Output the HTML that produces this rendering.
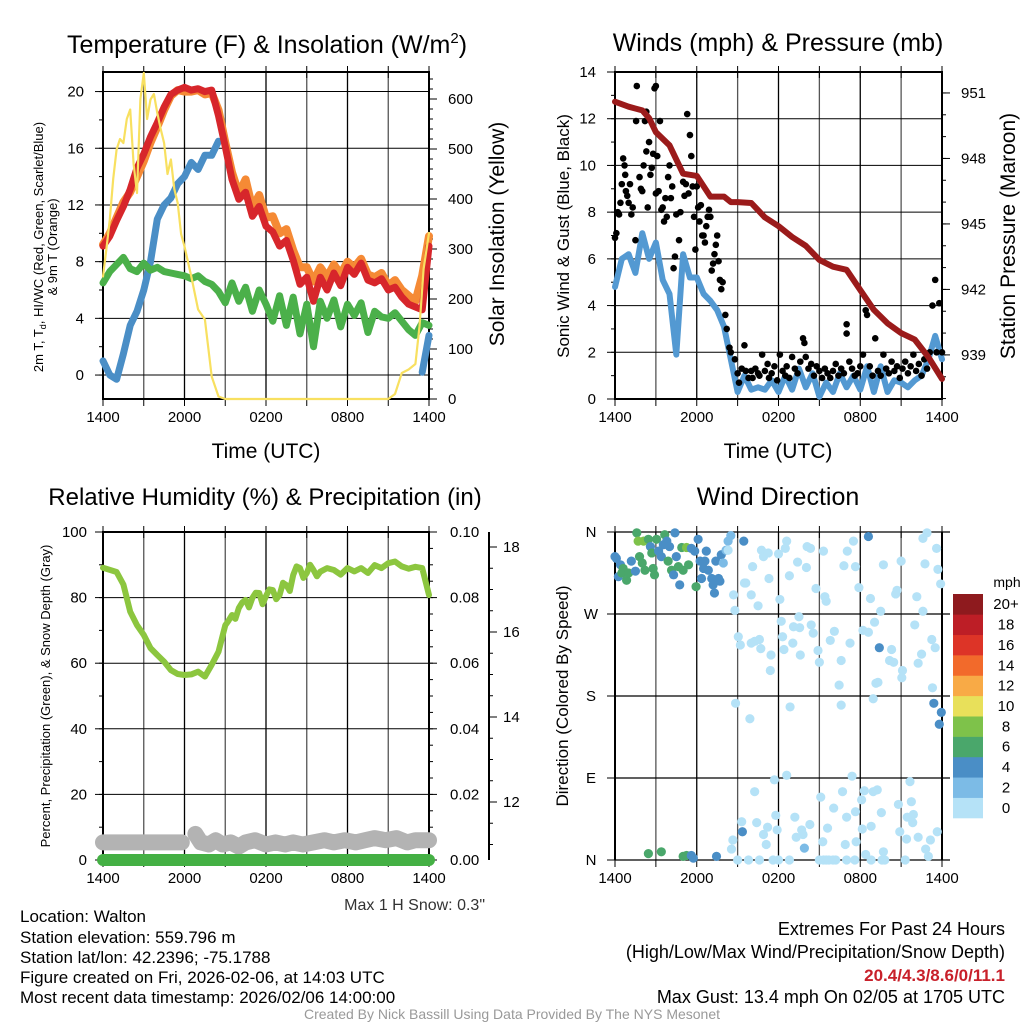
<!DOCTYPE html>
<html><head><meta charset="utf-8">
<style>
html,body{margin:0;padding:0;background:#fff;}
svg{display:block;font-family:"Liberation Sans",Arial,sans-serif;}
</style></head>
<body>
<svg id="chart" width="1024" height="1024" viewBox="0 0 1024 1024" xmlns="http://www.w3.org/2000/svg">
<rect x="0" y="0" width="1024" height="1024" fill="#fff"/>
<text x="267" y="53" font-size="25" text-anchor="middle">Temperature (F) &amp; Insolation (W/m<tspan dy="-10" font-size="15">2</tspan><tspan dy="10">)</tspan></text>
<text x="778" y="51" font-size="25" text-anchor="middle">Winds (mph) &amp; Pressure (mb)</text>
<text x="265" y="505" font-size="24" text-anchor="middle">Relative Humidity (%) &amp; Precipitation (in)</text>
<text x="778" y="505" font-size="25" text-anchor="middle">Wind Direction</text>

<text x="266" y="458" font-size="21" text-anchor="middle">Time (UTC)</text>
<text x="778" y="458" font-size="21" text-anchor="middle">Time (UTC)</text>

<text transform="translate(43,247) rotate(-90)" font-size="13" text-anchor="middle">2m T, T<tspan font-size="9" dy="3">d</tspan><tspan dy="-3">, HI/WC (Red, Green, Scarlet/Blue)</tspan></text>
<text transform="translate(57,247) rotate(-90)" font-size="13" text-anchor="middle">&amp; 9m T (Orange)</text>
<text transform="translate(504,234) rotate(-90)" font-size="21" text-anchor="middle">Solar Insolation (Yellow)</text>
<text transform="translate(569,236) rotate(-90)" font-size="17" text-anchor="middle">Sonic Wind &amp; Gust (Blue, Black)</text>
<text transform="translate(1015,236) rotate(-90)" font-size="21" text-anchor="middle">Station Pressure (Maroon)</text>
<text transform="translate(50,696) rotate(-90)" font-size="13" text-anchor="middle">Percent, Precipitation (Green), &amp; Snow Depth (Gray)</text>
<text transform="translate(568,696) rotate(-90)" font-size="17" text-anchor="middle">Direction (Colored By Speed)</text>

<text x="485" y="910" font-size="16" text-anchor="end" fill="#333">Max 1 H Snow: 0.3"</text>
<g font-size="17">
<text x="20" y="922">Location: Walton</text>
<text x="20" y="943">Station elevation: 559.796 m</text>
<text x="20" y="963">Station lat/lon: 42.2396; -75.1788</text>
<text x="20" y="983">Figure created on Fri, 2026-02-06, at 14:03 UTC</text>
<text x="20" y="1003">Most recent data timestamp: 2026/02/06 14:00:00</text>
</g>
<g font-size="18" text-anchor="end">
<text x="1005" y="935">Extremes For Past 24 Hours</text>
<text x="1005" y="958">(High/Low/Max Wind/Precipitation/Snow Depth)</text>
<text x="1005" y="981" fill="#c8202a" font-weight="bold" font-size="17">20.4/4.3/8.6/0/11.1</text>
<text x="1005" y="1003">Max Gust: 13.4 mph On 02/05 at 1705 UTC</text>
</g>
<text x="512" y="1019" font-size="14" fill="#999" text-anchor="middle">Created By Nick Bassill Using Data Provided By The NYS Mesonet</text>
</svg>
<script>
// ===== DATA =====
const timeTickLabels = ["1400","2000","0200","0800","1400"];
const timeTickHours = [0,6,12,18,24];
const tempTicks = [0,4,8,12,16,20];
const solarTicks = [0,100,200,300,400,500,600];
const windTicks = [0,2,4,6,8,10,12,14];
const pressTicks = [939,942,945,948,951];
const rhTicks = [0,20,40,60,80,100];
const precipTicks = ["0.00","0.02","0.04","0.06","0.08","0.10"];
const snowTicks = [12,14,16,18];
const dirTickLabels = ["N","E","S","W","N"];
const dirTickDeg = [0,90,180,270,360];
const speedBinLabels = ["0","2","4","6","8","10","12","14","16","18","20+"];
const speedBinColors = ["#b5e2f7","#7cbbe6","#4a8ec6","#4aa76b","#7ec24a","#e8e05a","#f8aa46","#f26a2b","#dd3427","#bd1e26","#8e1a1e"];

const halfHours = [0,0.5,1,1.5,2,2.5,3,3.5,4,4.5,5,5.5,6,6.5,7,7.5,8,8.5,9,9.5,10,10.5,11,11.5,12,12.5,13,13.5,14,14.5,15,15.5,16,16.5,17,17.5,18,18.5,19,19.5,20,20.5,21,21.5,22,22.5,23,23.5,24];
const temp2m = [9.1,9.8,10.9,11.9,13.1,14.6,15.6,16.8,17.8,18.9,19.8,20.1,20.3,20.1,20.2,20.0,20.1,18.3,16.1,13.8,12.4,12.9,11.2,11.9,10.5,10.1,9.1,9.5,8.1,6.4,6.9,5.2,6.9,6.0,7.2,6.3,7.6,7.1,7.9,6.7,6.5,6.8,6.0,6.2,5.5,5.0,4.8,4.6,9.1];
const temp9m = [9.2,10.0,11.1,12.2,12.9,14.0,15.1,16.4,17.5,18.7,19.7,20.1,20.0,20.0,20.1,19.8,19.9,18.7,16.4,14.3,12.8,13.8,11.8,12.7,11.1,11.2,10.0,10.3,8.8,7.6,7.6,6.6,7.6,6.9,7.8,7.1,8.0,7.6,8.2,7.1,6.9,7.2,6.3,6.7,6.0,5.6,5.2,7.0,9.8];
const dewpoint = [1.0,0.0,-0.3,1.5,3.5,4.5,6.0,8.0,11.0,12.0,12.5,13.5,14.0,15.0,14.5,15.5,15.5,16.5,null,12.8,null,null,null,null,null,null,null,null,null,null,null,null,null,null,null,null,null,null,null,null,null,null,null,null,null,null,null,0.2,2.8];
const dewpoint9h = [null,null,null,null,null,null,null,null,null,null,null,null,null,null,null,null,null,null,null,12.0,null,null,null,null,null,null,null,null,null,null,null,null,null,null,null,null,null,4.8,null,null,null,null,null,null,null,null,null,-0.6,null];
const windChill = [6.5,7.3,7.8,8.3,7.5,7.3,7.9,7.4,7.6,7.3,7.2,7.1,7.0,6.8,7.0,6.6,6.4,5.9,5.1,6.5,5.2,6.2,4.5,6.0,5.0,3.8,5.6,3.5,5.5,2.9,5.0,2.0,5.2,4.0,5.3,3.4,5.0,4.2,5.1,3.0,4.5,4.1,4.0,4.4,3.8,3.2,2.8,3.7,3.5];
const solarHours = [0,0.25,0.5,0.75,1,1.25,1.5,1.75,2,2.25,2.5,2.75,3,3.25,3.5,3.75,4,4.25,4.5,4.75,5,5.25,5.5,5.75,6,6.5,7,7.5,8,8.5,9,21,21.5,22,22.5,23,23.3,23.6,24];
const solar = [245,300,359,440,499,520,512,560,579,470,412,600,652,560,599,610,572,540,512,450,479,420,392,330,305,245,179,159,45,5,0,0,10,52,59,70,145,260,332];
const windHours = halfHours;
const sonicWind = [4.8,6.0,6.2,5.4,7.1,6.0,6.7,5.1,4.5,1.9,6.2,5.2,5.2,4.5,4.2,3.8,3.1,1.7,0.3,1.0,0.4,0.5,0.4,0.8,0.3,1.0,0.4,1.3,0.5,1.1,0.1,0.7,0.3,1.1,0.5,1.0,0.4,1.4,0.3,1.4,0.3,0.8,0.7,0.5,0.8,1.0,1.7,2.7,1.7];
const pressHours = [0,1,2,2.5,3,4,5,6,7,8,8.5,9,10,11,12,13,14,15,16,17,18,19,20,21,22,23,24];
const pressure = [950.6,950.37,950.2,949.85,949.2,948.6,947.3,947.2,946.25,946.25,946.0,946.0,945.96,945.3,944.9,944.4,944.0,943.35,943.04,942.9,941.97,941.06,940.45,940.0,939.7,938.9,937.9];
const gustHours = [0,0.1,0.2,0.3,0.4,0.5,0.6,0.7,0.75,0.8,0.9,1.0,1.1,1.2,1.3,1.5,1.55,1.6,1.8,1.9,2.0,2.1,2.2,2.3,2.3,2.4,2.5,2.6,2.7,2.8,2.9,3.0,3.0,3.1,3.2,3.3,3.4,3.5,3.6,3.7,3.8,3.9,4.0,4.1,4.2,4.3,4.4,4.5,4.7,4.8,5.0,5.1,5.2,5.3,5.4,5.5,5.6,5.7,5.8,5.9,6.0,6.1,6.2,6.3,6.4,6.5,6.6,6.7,6.8,6.9,7.0,7.1,7.2,7.3,7.4,7.5,7.6,7.7,7.8,7.9,8.1,8.2,8.4,8.5,8.8,9.0,9.1,9.3,9.5,9.6,9.8,10.0,10.1,10.3,10.5,10.6,10.8,11.0,11.2,11.3,11.5,11.7,11.9,12.1,12.3,12.5,12.6,12.8,13.0,13.2,13.4,13.6,13.8,13.9,14.0,14.2,14.4,14.6,14.8,15.0,15.2,15.4,15.6,15.8,16.0,16.2,16.4,16.6,16.8,17.0,17.0,17.2,17.4,17.6,17.8,18.0,18.2,18.4,18.5,18.7,18.9,19.1,19.3,19.5,19.7,19.9,20.1,20.3,20.5,20.7,20.9,21.1,21.3,21.5,21.7,21.9,22.1,22.3,22.5,22.7,22.9,23.1,23.3,23.5,23.6,23.8,24.0];
const gust = [6.9,7.1,8.0,7.9,8.4,9.2,10.3,10.0,9.6,8.9,8.7,8.4,9.2,7.9,8.2,6.8,11.9,13.4,9.5,9.0,8.9,10.0,11.9,12.3,10.6,8.2,11.0,9.6,9.9,10.5,13.3,13.4,8.8,10.4,8.9,11.9,8.1,8.2,7.6,8.6,7.8,9.5,10.0,8.6,9.1,5.6,6.1,7.9,6.8,8.0,9.3,8.7,9.2,12.2,8.8,11.3,10.4,9.1,7.8,6.4,9.1,8.2,7.6,8.3,7.0,7.0,6.7,7.4,7.8,8.1,7.8,5.5,5.8,6.2,6.6,7.0,5.9,5.1,4.7,5.0,3.6,3.0,2.2,2.0,1.7,1.1,0.7,1.3,2.3,1.2,0.9,1.2,0.9,1.3,1.1,1.0,1.9,1.2,1.5,0.9,1.1,1.4,0.8,1.9,1.2,1.0,1.4,0.9,1.8,1.3,1.1,1.6,2.6,2.4,1.8,1.3,1.5,1.0,1.4,1.2,0.9,1.3,1.1,0.9,1.2,1.5,1.0,1.3,1.1,3.2,2.8,1.6,1.3,1.0,1.1,1.4,1.9,3.8,3.6,1.4,1.0,2.6,1.2,1.0,1.9,1.3,1.1,1.6,1.2,1.4,0.9,1.3,1.6,1.1,1.4,1.9,1.2,1.5,1.0,1.7,1.3,2.0,4.0,5.1,2.0,4.1,2.0,5.1];
const rhHours = [0,1,1.5,2,2.5,3,3.5,4,4.5,5,5.5,6,6.5,7,7.5,8,8.5,9,9.25,9.5,9.75,10,10.25,10.5,10.75,11,11.25,11.5,11.75,12,12.25,12.5,12.75,13,13.25,13.5,13.75,14,14.25,14.5,14.75,15,15.25,15.5,15.75,16,16.5,17,17.5,18,18.5,19,19.5,20,20.5,21,21.5,22,22.5,23,23.5,24];
const humidity = [89.1,87.8,84.0,75.7,71.6,68.6,64.6,62.5,60.5,57.9,56.7,56.4,56.6,57.4,55.9,59.5,63.5,71.6,73.0,74.7,73.5,76.8,78.5,79.3,77.0,79.9,81.5,81.4,78.0,80.5,82.5,82.3,79.5,80.8,84.5,83.8,82.0,86.9,89.5,89.0,86.0,87.5,90.0,88.4,86.5,87.9,89.0,88.4,87.0,89.0,88.0,89.0,87.5,89.9,89.0,90.5,91.0,89.5,88.8,89.4,89.0,80.8];
const snowHours = [0,5.8,null,6.8,7.2,7.8,8.3,8.8,9.4,10,10.5,11.2,12,12.7,13.4,14,14.7,15.5,16.3,17,17.8,18.6,19.3,20,20.8,21.6,22.4,23,24];
const snowDepth = [11.05,11.05,null,11.25,11.05,11.0,11.1,11.0,11.05,10.95,11.05,11.1,11.0,11.05,11.0,11.05,11.0,11.05,11.1,11.05,11.1,11.05,11.1,11.15,11.1,11.15,11.05,11.1,11.1];
const precipHours = [0,24];
const precip = [0,0];
const dirHours = [0,0.1,0.4,0.25,0.5,0.6,0.85,1.0,1.2,1.5,1.6,1.7,1.8,2.0,2.1,2.2,2.45,2.6,2.7,2.8,2.9,3.05,3.2,3.4,3.55,3.65,3.8,3.9,4.0,4.15,4.3,4.4,4.5,4.65,4.75,4.9,5.0,5.25,5.4,5.6,5.85,5.95,6.1,6.25,6.35,6.5,6.6,6.7,6.85,7.1,7.2,7.3,7.4,7.6,7.7,7.8,7.95,8.15,8.3,8.5,9.45,2.45,3.4,5.0,5.25,5.6,5.75,7.45,9.35,13.9,18.6,19.4,23.4,23.95,23.8,
8.3,8.7,8.8,9.5,9.6,10.1,10.0,10.5,10.75,10.9,11.25,11.3,12.0,12.1,12.5,12.6,12.8,13.4,14.05,14.1,14.35,14.75,15.3,15.4,15.5,16.8,17.05,17.5,17.65,17.9,18.75,19.5,19.7,20.6,20.7,21.0,22.15,22.6,22.6,22.9,22.75,23.6,23.7,23.9,
9.05,9.2,10.0,10.25,10.6,10.7,11.45,11.4,12.2,12.3,12.4,13.1,13.5,13.55,13.05,13.6,14.4,14.55,14.9,15.0,15.8,16.1,16.6,16.45,17.25,18.2,18.6,19.05,19.15,19.3,20.15,20.3,20.45,21.1,21.05,22.0,22.5,22.25,23.25,23.5,23.3,18.95,
8.85,9.9,12.85,16.6,11.7,12.6,17.4,21.65,
10.25,9.3,8.65,8.55,10.4,10.9,11.1,11.2,11.8,11.9,13.2,13.3,13.7,13.8,14.3,15.1,15.25,15.6,16.05,16.7,16.9,17.0,17.65,17.7,18.1,18.3,18.4,18.15,18.8,18.95,19.25,19.55,19.7,20.8,20.9,21.4,21.45,21.75,21.85,21.9,22.25,22.8,23.0,23.15,23.65,
9.0,9.8,10.6,11.6,12.0,12.8,15.0,15.3,15.5,15.7,16.0,16.2,17.0,17.6,18.8,19.6,19.8,21.3];
const dirDeg = [333,331,324,311,315,320,307,315,328,317,359,350,333,326,350,318,352,344,337,320,313,352,339,333,346,357,350,328,344,318,313,359,333,322,302,343,318,343,324,342,339,300,352,328,309,320,328,339,318,309,302,293,328,309,306,335,326,340,350,356,350,7,9,4,5,5,2,4,31,13,355,233,172,162,149,
340,291,274,304,304,322,291,279,340,333,337,309,336,286,342,350,312,327,321,344,342,298,339,289,284,323,339,350,322,299,287,273,324,292,296,328,289,273,353,359,325,342,319,303,
245,236,238,240,242,232,225,208,262,245,231,256,267,255,238,225,258,249,230,217,241,251,219,192,238,252,250,261,194,195,219,231,217,208,200,258,226,216,242,233,189,177,
172,155,168,170,88,93,92,86,
75,42,22,12,41,28,17,36,49,33,47,25,33,28,39,69,20,35,57,75,17,47,53,20,66,76,6,34,37,75,77,52,9,61,31,23,47,64,41,50,25,12,4,22,31,
0,0,0,0,0,0,0,0,0,0,0,0,0,0,0,0,0,0];
const dirSpeed = [5,5,5,5,7,7,7,7,5,5,7,9,7,7,9,7,7,5,7,7,7,7,5,5,5,7,5,7,5,7,5,5,5,7,5,7,7,9,7,5,5,7,5,5,5,5,5,5,5,5,5,5,5,5,5,5,3,3,3,3,5,7,7,7,7,5,5,5,5,3,5,5,5,5,5,
1,1,1,1,1,1,1,1,1,1,1,1,1,1,1,1,1,1,1,1,1,1,1,1,1,1,1,1,1,1,1,1,1,1,1,1,1,1,1,1,1,1,1,1,
1,1,1,1,1,1,1,1,1,1,1,1,1,1,1,1,1,1,1,1,1,1,1,1,1,1,1,1,1,1,1,1,1,1,1,1,1,1,1,1,1,1,
1,1,1,1,1,1,1,1,
1,1,1,1,1,1,1,1,1,1,1,1,1,1,1,1,1,1,1,1,1,1,1,1,1,1,1,1,1,1,1,1,1,1,1,1,1,1,1,1,1,1,1,1,1,
1,1,1,1,1,1,1,1,1,1,1,1,1,1,1,1,1,1];

// ===== helpers =====
const NS="http://www.w3.org/2000/svg";
const svg=document.getElementById('chart');
function mk(tag,attrs,parent){const e=document.createElementNS(NS,tag);for(const k in attrs)e.setAttribute(k,attrs[k]);(parent||svg).appendChild(e);return e;}
function scale(d0,d1,r0,r1){return v=>r0+(v-d0)*(r1-r0)/(d1-d0);}
function pathD(xs,ys,sx,sy){let d="",pen=false;for(let i=0;i<xs.length;i++){if(xs[i]===null||ys[i]===null){pen=false;continue;}d+=(pen?"L":"M")+sx(xs[i]).toFixed(1)+","+sy(ys[i]).toFixed(1);pen=true;}return d;}
function colorFor(s){let i=Math.floor(s/2);if(i<0)i=0;if(i>10)i=10;return speedBinColors[i];}

function panelFrame(p,name){
  const g=mk('g',{});
  
  
  for(let h=3;h<24;h+=3){
    const l=mk('line',{x1:p.sx(h),x2:p.sx(h),y1:p.y0,y2:p.y1,stroke:(h%6===0)?'#000':'#555','stroke-width':1.3},g);
    
    
  }
  for(let h=0;h<=24;h+=3){
    const t=mk('line',{x1:p.sx(h),x2:p.sx(h),y1:p.y1,y2:p.y1+7,stroke:'#000','stroke-width':1},g);
    
    
    const tt=mk('line',{x1:p.sx(h),x2:p.sx(h),y1:p.y0-6,y2:p.y0+6,stroke:'#000','stroke-width':1},g);
    
    
  }
  timeTickHours.forEach((h,i)=>{
    const t=mk('text',{x:p.sx(h),y:p.y1+23,'font-size':15,'text-anchor':'middle'},g);
    
    
    t.textContent=timeTickLabels[i];
  });
  return g;
}
function hgrid(p,vals,sy,g){
  vals.forEach(v=>{
    const l=mk('line',{x1:p.x0,x2:p.x1,y1:sy(v),y2:sy(v),stroke:'#000','stroke-width':1},g);
    
    
  });
}
function leftAxis(p,vals,labels,sy,g,minorStep,lo,hi,lx){
  for(let v=lo;v<=hi+1e-9;v+=minorStep){const y=sy(v);if(y<p.y0-0.5||y>p.y1+0.5)continue;
    const m=mk('line',{x1:p.x0-4,x2:p.x0,y1:y,y2:y,stroke:'#000','stroke-width':1},g);
    
    }
  vals.forEach((v,i)=>{
    const t=mk('line',{x1:p.x0-8,x2:p.x0,y1:sy(v),y2:sy(v),stroke:'#000','stroke-width':1},g);
    
    
    const tx=mk('text',{x:lx,y:sy(v)+5,'font-size':15,'text-anchor':'end'},g);
    
    
    tx.textContent=labels[i];
  });
}
function rightAxis(x,p,vals,labels,sy,g,minorStep,lo,hi,lx){
  for(let v=lo;v<=hi+1e-9;v+=minorStep){const y=sy(v);if(y<p.y0-0.5||y>p.y1+0.5)continue;
    const m=mk('line',{x1:x,x2:x+4,y1:y,y2:y,stroke:'#000','stroke-width':1},g);
    
    }
  vals.forEach((v,i)=>{
    const t=mk('line',{x1:x,x2:x+8,y1:sy(v),y2:sy(v),stroke:'#000','stroke-width':1},g);
    
    
    const tx=mk('text',{x:lx,y:sy(v)+5,'font-size':15,'text-anchor':'start'},g);
    
    
    tx.textContent=labels[i];
  });
}
function border(p,g){
  const r=mk('rect',{x:p.x0,y:p.y0,width:p.x1-p.x0,height:p.y1-p.y0,fill:'none',stroke:'#000','stroke-width':2},g);
  
  
}
function line(xs,ys,sx,sy,color,w,name,g){
  const e=mk('path',{d:pathD(xs,ys,sx,sy),fill:'none',stroke:color,'stroke-width':w,'stroke-linejoin':'round','stroke-linecap':'round'},g);
  
  
  return e;
}

// ===== Panel 1 =====
const p1={x0:103,x1:429,y0:72,y1:399};p1.sx=scale(0,24,p1.x0,p1.x1);
const t1y=scale(-1.69,21.38,p1.y1,p1.y0), s1y=scale(0,654,p1.y1,p1.y0);
const g1=panelFrame(p1,'temperature-panel');
hgrid(p1,tempTicks,t1y,g1);
const m1=mk('g',{});
line(halfHours,dewpoint,p1.sx,t1y,'#4a8ec6',7,'dewpoint-line',m1);
line(halfHours,dewpoint9h,p1.sx,t1y,'#4a8ec6',6,'dewpoint-fragment-line',m1);
line(halfHours,temp9m,p1.sx,t1y,'#f58a35',8,'temp-9m-line',m1);
line(halfHours,temp2m,p1.sx,t1y,'#d7262b',7,'temp-2m-line',m1);
line(halfHours,windChill,p1.sx,t1y,'#4bb04a',7,'wind-chill-line',m1);
line(solarHours,solar,p1.sx,s1y,'#f8e060',2.2,'solar-insolation-line',m1);
border(p1,g1);
leftAxis(p1,tempTicks,tempTicks.map(String),t1y,g1,2,-2,22,84);
rightAxis(p1.x1,p1,solarTicks,solarTicks.map(String),s1y,g1,20,0,650,448);

// ===== Panel 2 =====
const p2={x0:615,x1:942,y0:72,y1:399};p2.sx=scale(0,24,p2.x0,p2.x1);
const w2y=scale(0,14,p2.y1,p2.y0), pr2y=scale(936.98,951.96,p2.y1,p2.y0);
const g2=panelFrame(p2,'winds-panel');
hgrid(p2,windTicks,w2y,g2);
const m2=mk('g',{});
line(windHours,sonicWind,p2.sx,w2y,'#5399d2',6,'sonic-wind-line',m2);
gustHours.forEach((h,i)=>{
  const c=mk('circle',{cx:p2.sx(h),cy:w2y(gust[i]),r:3.3,fill:'#000'},m2);
  
  
});
line(pressHours,pressure,p2.sx,pr2y,'#9b1b1b',6,'pressure-line',m2);
border(p2,g2);
leftAxis(p2,windTicks,windTicks.map(String),w2y,g2,1,0,14,596);
rightAxis(p2.x1,p2,pressTicks,pressTicks.map(String),pr2y,g2,1,937,952,961);

// ===== Panel 3 =====
const p3={x0:103,x1:429,y0:532,y1:860};p3.sx=scale(0,24,p3.x0,p3.x1);
const h3y=scale(0,100,p3.y1,p3.y0), pc3y=scale(0,0.1,p3.y1,p3.y0), sn3y=scale(10.635,18.353,p3.y1,p3.y0);
const g3=panelFrame(p3,'humidity-panel');
hgrid(p3,rhTicks,h3y,g3);
const m3=mk('g',{});
line(snowHours,snowDepth,p3.sx,sn3y,'#b3b3b3',16,'snow-depth-line',m3);
line(rhHours,humidity,p3.sx,h3y,'#8cc63f',6,'humidity-line',m3);
line(precipHours,precip,p3.sx,pc3y,'#44b044',12,'precip-line',m3);
border(p3,g3);
leftAxis(p3,rhTicks,rhTicks.map(String),h3y,g3,10,0,100,87);
rightAxis(p3.x1,p3,precipTicks.map(Number),precipTicks,pc3y,g3,0.005,0,0.1,450);
const ax3=mk('line',{x1:489,x2:489,y1:532,y2:860,stroke:'#000','stroke-width':2},g3);


for(let v=11;v<=18;v+=0.5){const y=sn3y(v);
  const m=mk('line',{x1:489,x2:493,y1:y,y2:y,stroke:'#000','stroke-width':1},g3);
  
  }
snowTicks.forEach(v=>{
  const t=mk('line',{x1:489,x2:497,y1:sn3y(v),y2:sn3y(v),stroke:'#000','stroke-width':1},g3);
  
  
  const tx=mk('text',{x:503,y:sn3y(v)+5,'font-size':15},g3);
  
  
  tx.textContent=String(v);
});

// ===== Panel 4 =====
const p4={x0:615,x1:942,y0:532,y1:860};p4.sx=scale(0,24,p4.x0,p4.x1);
const d4y=scale(0,360,p4.y1,p4.y0);
const g4=panelFrame(p4,'direction-panel');
dirTickDeg.forEach(v=>{
  const l=mk('line',{x1:p4.x0,x2:p4.x1+8,y1:d4y(v),y2:d4y(v),stroke:'#000','stroke-width':1.3},g4);
  
  
});
const m4=mk('g',{});
dirHours.forEach((h,i)=>{
  const c=mk('circle',{cx:p4.sx(h),cy:d4y(dirDeg[i]),r:4.6,fill:colorFor(dirSpeed[i])},m4);
  
  
});
const ln=mk('line',{x1:p4.x0,x2:p4.x0,y1:p4.y0,y2:p4.y1,stroke:'#000','stroke-width':2},g4);

const rn=mk('line',{x1:p4.x1,x2:p4.x1,y1:p4.y0,y2:p4.y1,stroke:'#000','stroke-width':2},g4);

dirTickDeg.forEach((v,i)=>{
  const t=mk('line',{x1:p4.x0-8,x2:p4.x0,y1:d4y(v),y2:d4y(v),stroke:'#000','stroke-width':1},g4);
  
  
  const tx=mk('text',{x:591,y:d4y(v)+5,'font-size':15,'text-anchor':'middle'},g4);
  
  
  tx.textContent=dirTickLabels[i];
});
const cb=mk('g',{});
const cbTop=594,cbBot=818,cbH=(cbBot-cbTop)/speedBinColors.length;
speedBinColors.forEach((c,i)=>{
  const y=cbBot-(i+1)*cbH;
  const r=mk('rect',{x:953,y:y,width:30,height:cbH+0.3,fill:c},cb);
  
  
  const tx=mk('text',{x:1006,y:y+cbH/2+5,'font-size':15,'text-anchor':'middle'},cb);
  
  
  tx.textContent=speedBinLabels[i];
});
const mph=mk('text',{x:1007,y:587,'font-size':14,'text-anchor':'middle'},cb);


mph.textContent='mph';
</script>
</body></html>
